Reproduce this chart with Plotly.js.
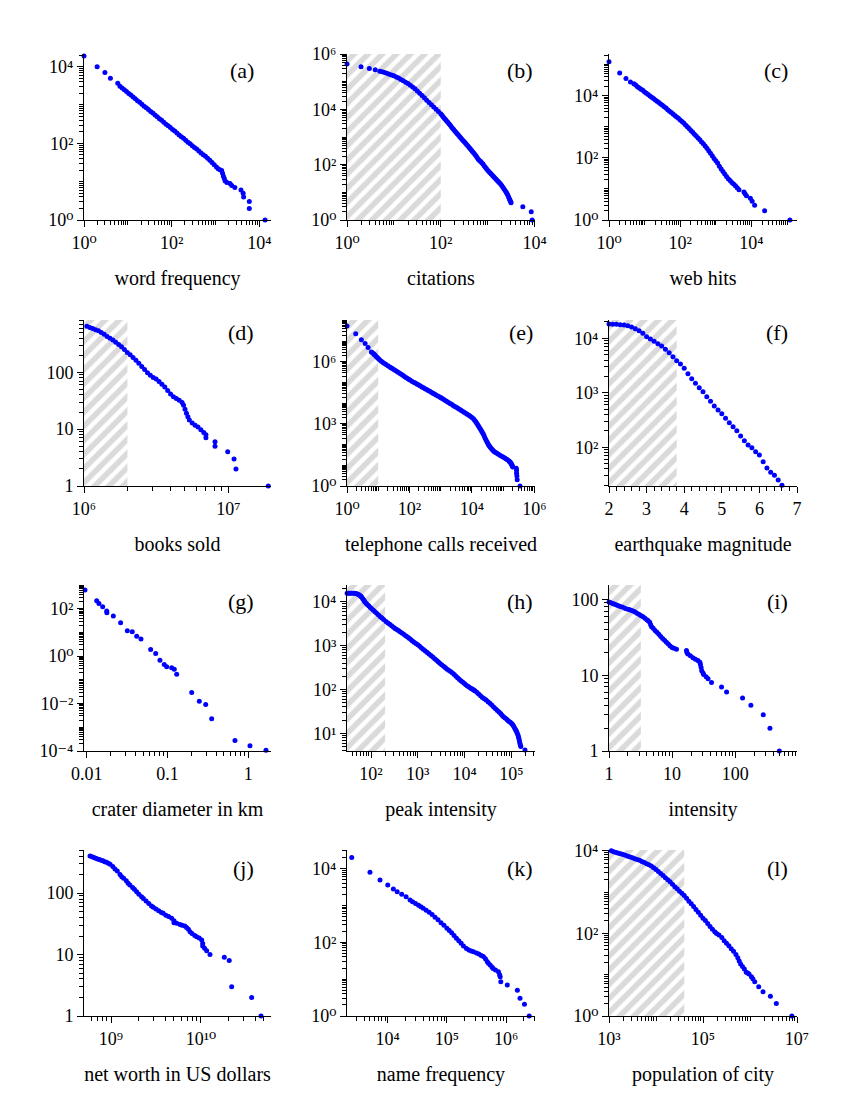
<!DOCTYPE html>
<html><head><meta charset="utf-8">
<script src="https://cdn.plot.ly/plotly-3.0.1.min.js"></script>
<style>body{margin:0;background:#fff}#chart{width:850px;height:1100px}</style>
</head><body><div id="chart"></div>
<script>
// ---------- DATA (log10 values: [log10 x, log10 cumulative count]) ----------
const wordFrequency = [[0,4.28],[0.30,4.00],[0.477,3.85],[0.602,3.70],[0.77,3.57],[0.82,3.49],[0.87,3.44],[0.92,3.40],[0.97,3.35],[1.02,3.30],[1.07,3.26],[1.12,3.21],[1.17,3.16],[1.22,3.11],[1.27,3.07],[1.32,3.02],[1.37,2.97],[1.42,2.93],[1.47,2.88],[1.52,2.83],[1.57,2.79],[1.62,2.74],[1.67,2.69],[1.72,2.64],[1.77,2.60],[1.82,2.55],[1.87,2.50],[1.92,2.46],[1.97,2.41],[2.02,2.36],[2.07,2.32],[2.12,2.27],[2.17,2.22],[2.22,2.17],[2.27,2.13],[2.32,2.08],[2.37,2.03],[2.42,1.99],[2.47,1.94],[2.52,1.89],[2.57,1.85],[2.62,1.80],[2.67,1.75],[2.72,1.70],[2.77,1.66],[2.82,1.61],[2.87,1.56],[2.92,1.50],[2.97,1.44],[3.02,1.38],[3.06,1.34],[3.10,1.31],[3.14,1.29],[3.16,1.22],[3.18,1.14],[3.20,1.08],[3.22,1.02],[3.26,0.98],[3.33,0.95],[3.37,0.90],[3.44,0.85],[3.58,0.78],[3.63,0.70],[3.64,0.60],[3.77,0.48],[3.77,0.30],[4.13,0]];
const citations = [[0,5.64],[0.30,5.54],[0.477,5.48],[0.602,5.43],[0.70,5.38],[0.75,5.355],[0.80,5.33],[0.85,5.30],[0.90,5.27],[0.95,5.24],[1.00,5.21],[1.05,5.17],[1.10,5.13],[1.15,5.08],[1.20,5.03],[1.25,4.98],[1.30,4.93],[1.35,4.87],[1.40,4.81],[1.45,4.74],[1.50,4.66],[1.55,4.58],[1.60,4.50],[1.65,4.42],[1.70,4.33],[1.75,4.25],[1.80,4.17],[1.85,4.08],[1.90,4.00],[1.95,3.92],[2.00,3.84],[2.025,3.785],[2.05,3.73],[2.075,3.68],[2.10,3.63],[2.125,3.58],[2.15,3.53],[2.175,3.48],[2.20,3.43],[2.225,3.375],[2.25,3.32],[2.275,3.27],[2.30,3.22],[2.325,3.17],[2.35,3.12],[2.375,3.07],[2.40,3.02],[2.425,2.97],[2.45,2.92],[2.475,2.875],[2.50,2.83],[2.525,2.78],[2.55,2.73],[2.575,2.68],[2.60,2.63],[2.625,2.58],[2.65,2.53],[2.675,2.48],[2.70,2.43],[2.725,2.375],[2.75,2.32],[2.775,2.26],[2.80,2.20],[2.825,2.155],[2.85,2.11],[2.875,2.065],[2.90,2.02],[2.925,1.965],[2.95,1.91],[2.975,1.855],[3.00,1.80],[3.025,1.755],[3.05,1.71],[3.075,1.665],[3.10,1.62],[3.125,1.575],[3.15,1.53],[3.175,1.485],[3.20,1.44],[3.225,1.395],[3.25,1.35],[3.275,1.30],[3.30,1.25],[3.325,1.185],[3.35,1.12],[3.375,1.055],[3.40,0.99],[3.415,0.945],[3.43,0.90],[3.445,0.84],[3.46,0.78],[3.47,0.74],[3.48,0.70],[3.49,0.66],[3.50,0.62],[3.75,0.477],[3.93,0.301],[3.95,0]];
const webHits = [[0,5.09],[0.30,4.73],[0.477,4.55],[0.602,4.44],[0.70,4.38],[0.75,4.34],[0.80,4.29],[0.85,4.25],[0.90,4.21],[0.95,4.17],[1.00,4.12],[1.05,4.08],[1.10,4.04],[1.15,3.99],[1.20,3.95],[1.25,3.91],[1.30,3.86],[1.35,3.82],[1.40,3.78],[1.45,3.73],[1.50,3.69],[1.55,3.64],[1.60,3.60],[1.65,3.55],[1.70,3.50],[1.75,3.46],[1.80,3.41],[1.85,3.36],[1.90,3.31],[1.95,3.27],[2.00,3.22],[2.05,3.17],[2.10,3.12],[2.15,3.06],[2.20,3.00],[2.25,2.94],[2.30,2.88],[2.35,2.82],[2.40,2.76],[2.45,2.70],[2.50,2.64],[2.55,2.58],[2.60,2.51],[2.65,2.45],[2.70,2.38],[2.75,2.31],[2.80,2.23],[2.85,2.15],[2.90,2.07],[2.95,1.98],[3.00,1.91],[3.05,1.83],[3.10,1.73],[3.15,1.64],[3.20,1.56],[3.25,1.48],[3.30,1.40],[3.35,1.33],[3.40,1.27],[3.45,1.21],[3.50,1.16],[3.55,1.10],[3.60,1.04],[3.65,0.97],[3.79,0.903],[3.82,0.845],[3.86,0.778],[3.97,0.699],[4.02,0.602],[4.09,0.477],[4.37,0.301],[5.08,0]];
const booksSold = [[6.00,2.83],[6.02,2.81],[6.04,2.79],[6.06,2.77],[6.08,2.75],[6.10,2.73],[6.12,2.70],[6.14,2.67],[6.16,2.63],[6.18,2.60],[6.20,2.57],[6.22,2.53],[6.24,2.49],[6.26,2.45],[6.28,2.40],[6.30,2.35],[6.32,2.31],[6.34,2.26],[6.36,2.21],[6.38,2.16],[6.40,2.10],[6.42,2.05],[6.44,1.99],[6.46,1.95],[6.48,1.91],[6.50,1.88],[6.52,1.84],[6.54,1.79],[6.56,1.74],[6.58,1.68],[6.60,1.62],[6.62,1.57],[6.64,1.54],[6.66,1.51],[6.68,1.47],[6.69,1.42],[6.70,1.35],[6.71,1.28],[6.72,1.22],[6.73,1.16],[6.75,1.11],[6.77,1.07],[6.79,1.04],[6.81,0.99],[6.83,0.94],[6.845,0.90],[6.845,0.85],[6.908,0.778],[6.908,0.699],[6.996,0.602],[7.04,0.477],[7.053,0.301],[7.277,0]];
const telephoneCalls = [[0,7.74],[0.28,7.37],[0.46,7.08],[0.58,6.89],[0.675,6.70],[0.78,6.48],[0.815,6.44],[0.85,6.40],[0.875,6.365],[0.90,6.33],[0.935,6.27],[0.97,6.21],[1.01,6.155],[1.05,6.10],[1.10,6.04],[1.15,5.98],[1.20,5.93],[1.25,5.88],[1.31,5.82],[1.37,5.76],[1.41,5.72],[1.45,5.68],[1.50,5.635],[1.55,5.59],[1.60,5.54],[1.65,5.49],[1.70,5.44],[1.75,5.39],[1.80,5.34],[1.85,5.29],[1.90,5.24],[1.95,5.19],[1.99,5.15],[2.03,5.11],[2.09,5.06],[2.15,5.01],[2.20,4.965],[2.25,4.92],[2.30,4.88],[2.35,4.84],[2.40,4.795],[2.45,4.75],[2.50,4.71],[2.55,4.67],[2.60,4.625],[2.65,4.58],[2.70,4.535],[2.75,4.49],[2.80,4.445],[2.85,4.40],[2.91,4.355],[2.97,4.31],[3.01,4.27],[3.05,4.23],[3.10,4.185],[3.15,4.14],[3.20,4.09],[3.25,4.04],[3.30,3.995],[3.35,3.95],[3.40,3.90],[3.45,3.85],[3.50,3.805],[3.55,3.76],[3.60,3.71],[3.65,3.66],[3.70,3.615],[3.75,3.57],[3.80,3.52],[3.85,3.47],[3.90,3.42],[3.95,3.37],[4.00,3.31],[4.05,3.25],[4.085,3.185],[4.12,3.12],[4.15,3.045],[4.18,2.97],[4.21,2.90],[4.24,2.83],[4.27,2.755],[4.30,2.68],[4.33,2.605],[4.36,2.53],[4.39,2.425],[4.42,2.32],[4.45,2.23],[4.48,2.14],[4.505,2.07],[4.53,2.00],[4.555,1.945],[4.58,1.89],[4.615,1.825],[4.65,1.76],[4.685,1.71],[4.72,1.66],[4.76,1.625],[4.80,1.59],[4.85,1.54],[4.90,1.49],[4.95,1.445],[5.00,1.40],[5.05,1.355],[5.10,1.31],[5.14,1.265],[5.18,1.22],[5.20,1.19],[5.22,1.16],[5.235,1.13],[5.25,1.10],[5.265,1.06],[5.28,1.02],[5.295,0.97],[5.31,0.92],[5.42,0.86],[5.43,0.75],[5.43,0.62],[5.44,0.48],[5.45,0.30],[5.54,0]];
const earthquakeMagnitude = [2.0,2.1,2.2,2.3,2.4,2.5,2.6,2.7,2.8,2.9,3.0,3.1,3.2,3.3,3.4,3.5,3.6,3.7,3.8,3.9,4.0,4.1,4.2,4.3,4.4,4.5,4.6,4.7,4.8,4.9,5.0,5.1,5.2,5.3,5.4,5.5,5.6,5.7,5.8,5.9,6.0,6.1,6.2,6.3,6.4,6.5,6.6];
const earthquakeLogCount = [4.262,4.256,4.256,4.250,4.244,4.232,4.207,4.177,4.140,4.091,4.030,3.987,3.944,3.901,3.859,3.798,3.736,3.663,3.590,3.528,3.449,3.351,3.259,3.174,3.094,3.021,2.929,2.843,2.758,2.684,2.617,2.532,2.452,2.379,2.305,2.207,2.122,2.042,1.993,1.920,1.859,1.736,1.620,1.541,1.486,1.400,1.302];
const craterDiameter = [[-2.021,2.785],[-1.876,2.335],[-1.848,2.22],[-1.802,2.08],[-1.752,1.90],[-1.75,1.83],[-1.67,1.69],[-1.58,1.41],[-1.497,1.07],[-1.436,1.03],[-1.381,0.84],[-1.328,0.72],[-1.208,0.28],[-1.146,0.11],[-1.093,-0.17],[-1.04,-0.35],[-1.01,-0.45],[-0.948,-0.49],[-0.916,-0.55],[-0.886,-0.76],[-0.70,-1.53],[-0.606,-1.90],[-0.527,-2.04],[-0.453,-2.64],[-0.165,-3.56],[0.021,-3.78],[0.219,-3.97]];
const peakIntensity = [[1.49,4.20],[1.52,4.20],[1.55,4.20],[1.585,4.20],[1.62,4.20],[1.65,4.195],[1.68,4.19],[1.705,4.18],[1.73,4.17],[1.75,4.155],[1.77,4.14],[1.785,4.125],[1.80,4.11],[1.82,4.08],[1.84,4.05],[1.855,4.025],[1.87,4.00],[1.895,3.97],[1.92,3.94],[1.95,3.91],[1.98,3.88],[2.015,3.845],[2.05,3.81],[2.085,3.775],[2.12,3.74],[2.16,3.70],[2.20,3.66],[2.235,3.63],[2.27,3.60],[2.32,3.55],[2.36,3.52],[2.40,3.49],[2.44,3.455],[2.48,3.42],[2.515,3.395],[2.55,3.37],[2.585,3.345],[2.62,3.32],[2.66,3.29],[2.70,3.26],[2.74,3.23],[2.78,3.20],[2.815,3.17],[2.85,3.14],[2.885,3.11],[2.92,3.08],[2.96,3.05],[3.00,3.02],[3.04,2.985],[3.08,2.95],[3.12,2.915],[3.16,2.88],[3.20,2.845],[3.24,2.81],[3.28,2.775],[3.32,2.74],[3.36,2.705],[3.40,2.67],[3.435,2.635],[3.47,2.60],[3.51,2.565],[3.55,2.53],[3.585,2.50],[3.62,2.47],[3.66,2.44],[3.70,2.41],[3.74,2.375],[3.78,2.34],[3.815,2.305],[3.85,2.27],[3.885,2.235],[3.92,2.20],[3.955,2.17],[3.99,2.14],[4.025,2.11],[4.06,2.08],[4.095,2.055],[4.13,2.03],[4.155,2.015],[4.18,2.00],[4.20,1.985],[4.22,1.97],[4.26,1.935],[4.30,1.90],[4.34,1.86],[4.38,1.82],[4.42,1.79],[4.46,1.76],[4.50,1.72],[4.54,1.685],[4.58,1.645],[4.62,1.60],[4.66,1.56],[4.70,1.52],[4.735,1.485],[4.77,1.45],[4.80,1.415],[4.83,1.38],[4.865,1.35],[4.90,1.32],[4.925,1.295],[4.95,1.27],[4.975,1.25],[5.00,1.23],[5.02,1.205],[5.04,1.18],[5.06,1.14],[5.08,1.10],[5.095,1.07],[5.11,1.04],[5.125,1.00],[5.14,0.96],[5.15,0.92],[5.16,0.88],[5.17,0.83],[5.18,0.78],[5.19,0.74],[5.20,0.70],[5.29,0.62]];
const warIntensity = [[0.00,1.965],[0.03,1.955],[0.06,1.945],[0.09,1.935],[0.12,1.925],[0.15,1.915],[0.18,1.905],[0.22,1.895],[0.26,1.88],[0.30,1.87],[0.33,1.862],[0.36,1.855],[0.39,1.845],[0.42,1.83],[0.45,1.815],[0.48,1.80],[0.51,1.785],[0.54,1.77],[0.57,1.75],[0.60,1.73],[0.62,1.72],[0.645,1.70],[0.66,1.665],[0.675,1.64],[0.70,1.62],[0.73,1.59],[0.76,1.565],[0.79,1.54],[0.82,1.51],[0.85,1.485],[0.88,1.46],[0.91,1.435],[0.94,1.41],[0.97,1.385],[1.00,1.365],[1.03,1.355],[1.07,1.343],[1.228,1.325],[1.235,1.30],[1.25,1.28],[1.29,1.255],[1.33,1.23],[1.37,1.21],[1.41,1.195],[1.44,1.17],[1.45,1.14],[1.46,1.10],[1.47,1.06],[1.49,1.03],[1.50,1.008],[1.54,0.98],[1.57,0.954],[1.625,0.903],[1.784,0.845],[1.864,0.778],[2.117,0.699],[2.249,0.602],[2.445,0.477],[2.551,0.301],[2.70,0]];
const netWorth = [[8.767,2.602],[8.79,2.59],[8.81,2.58],[8.83,2.565],[8.85,2.555],[8.87,2.545],[8.89,2.535],[8.91,2.525],[8.93,2.51],[8.95,2.50],[8.97,2.485],[8.99,2.47],[9.02,2.43],[9.044,2.39],[9.07,2.36],[9.10,2.30],[9.119,2.265],[9.14,2.24],[9.17,2.20],[9.19,2.16],[9.21,2.13],[9.24,2.09],[9.26,2.06],[9.285,2.02],[9.31,1.98],[9.34,1.94],[9.36,1.91],[9.39,1.87],[9.42,1.83],[9.45,1.79],[9.47,1.767],[9.50,1.74],[9.53,1.71],[9.56,1.685],[9.58,1.67],[9.61,1.64],[9.64,1.62],[9.674,1.59],[9.70,1.55],[9.70,1.517],[9.73,1.51],[9.767,1.49],[9.79,1.475],[9.82,1.463],[9.84,1.44],[9.86,1.41],[9.878,1.37],[9.90,1.34],[9.93,1.31],[9.952,1.29],[9.98,1.27],[10.008,1.236],[10.019,1.18],[10.019,1.14],[10.04,1.10],[10.063,1.062],[10.1,1.0],[10.259,0.954],[10.314,0.903],[10.341,0.477],[10.563,0.301],[10.667,0]];
const nameFrequency = [[3.392,4.30],[3.70,3.894],[3.87,3.686],[4.0,3.55],[4.095,3.44],[4.16,3.37],[4.236,3.30],[4.31,3.23],[4.377,3.143],[4.42,3.10],[4.47,3.05],[4.52,3.00],[4.56,2.96],[4.60,2.92],[4.65,2.87],[4.70,2.81],[4.75,2.75],[4.80,2.68],[4.85,2.61],[4.90,2.53],[4.95,2.46],[5.00,2.38],[5.04,2.32],[5.08,2.26],[5.12,2.18],[5.16,2.11],[5.20,2.04],[5.24,1.97],[5.28,1.90],[5.33,1.83],[5.37,1.79],[5.41,1.76],[5.45,1.74],[5.50,1.71],[5.54,1.68],[5.58,1.64],[5.615,1.61],[5.65,1.55],[5.68,1.48],[5.70,1.43],[5.73,1.38],[5.76,1.33],[5.78,1.29],[5.82,1.25],[5.87,1.20],[5.89,1.12],[5.90,1.065],[5.91,0.93],[6.02,0.84],[6.19,0.70],[6.235,0.48],[6.31,0.317],[6.39,0]];
const cityPopulation = [[3.00,4.02],[3.05,4.00],[3.10,3.98],[3.15,3.96],[3.20,3.94],[3.25,3.93],[3.30,3.91],[3.35,3.89],[3.40,3.87],[3.45,3.85],[3.50,3.83],[3.55,3.81],[3.60,3.79],[3.65,3.77],[3.70,3.74],[3.75,3.72],[3.80,3.69],[3.85,3.66],[3.90,3.63],[3.95,3.59],[4.00,3.55],[4.05,3.50],[4.10,3.45],[4.15,3.40],[4.20,3.35],[4.25,3.30],[4.30,3.25],[4.35,3.19],[4.40,3.13],[4.45,3.08],[4.50,3.02],[4.55,2.97],[4.60,2.92],[4.65,2.85],[4.70,2.78],[4.75,2.72],[4.80,2.65],[4.85,2.58],[4.90,2.51],[4.95,2.44],[5.00,2.37],[5.05,2.31],[5.10,2.24],[5.15,2.17],[5.20,2.10],[5.25,2.04],[5.29,2.00],[5.34,1.96],[5.40,1.90],[5.45,1.82],[5.50,1.76],[5.55,1.70],[5.60,1.63],[5.65,1.57],[5.70,1.49],[5.74,1.41],[5.77,1.33],[5.80,1.26],[5.84,1.20],[5.88,1.14],[5.92,1.06],[5.95,1.04],[5.98,1.02],[6.03,0.95],[6.06,0.90],[6.10,0.83],[6.185,0.71],[6.277,0.59],[6.434,0.48],[6.56,0.30],[6.89,0]];

// shaded (hatched) x-intervals, in data units
const hatchCitations = [1, 100];
const hatchBooks = [1e6, 2e6];
const hatchTelephone = [1, 10];
const hatchEarthquake = [2, 3.8];
const hatchFlares = [31, 200];
const hatchWars = [1, 3.2];
const hatchCities = [1e3, 4e4];

const axisTitles = ['word frequency','citations','web hits','books sold','telephone calls received','earthquake magnitude','crater diameter in km','peak intensity','intensity','net worth in US dollars','name frequency','population of city'];
const panelLabels = ['(a)','(b)','(c)','(d)','(e)','(f)','(g)','(h)','(i)','(j)','(k)','(l)'];

// ---------- LAYOUT ----------
const FONT = 'Liberation Serif, Times New Roman, Times, Nimbus Roman, DejaVu Serif, serif';
const W = 850, H = 1100;
const cols = [[84,271],[347,535],[609,797]];
const rows = [[54,220],[320,486],[585,751],[850,1016]];
const labelRight = [256, 535, 790];
const labelTop = [56, 318, 587, 854];
const SUP = {'0':'\u2070','1':'\u00B9','2':'\u00B2','3':'\u00B3','4':'\u2074','5':'\u2075','6':'\u2076','7':'\u2077','8':'\u2078','9':'\u2079','-':'\u207B'};
const S = e => '10' + String(e).split('').map(ch => SUP[ch]).join('');
const pw = p => p.map(v => Math.pow(10, v));

// labelled decades: [exponent, label]; unlabelled decades get a plain (minor-style) tick
const panels = [
 {data: wordFrequency, xr:[0,4.265], yr:[0,4.33], xl:[[0,S(0)],[2,S(2)],[4,S(4)]], yl:[[0,S(0)],[2,S(2)],[4,S(4)]]},
 {data: citations, xr:[0,4.01], yr:[0,6.0], xl:[[0,S(0)],[2,S(2)],[4,S(4)]], yl:[[0,S(0)],[2,S(2)],[4,S(4)],[6,S(6)]], hatch: hatchCitations},
 {data: webHits, xr:[0,5.28], yr:[0,5.34], xl:[[0,S(0)],[2,S(2)],[4,S(4)]], yl:[[0,S(0)],[2,S(2)],[4,S(4)]]},
 {data: booksSold, xr:[6,7.296], yr:[0,2.92], xl:[[6,S(6)],[7,S(7)]], yl:[[0,'1'],[1,'10'],[2,'100']], hatch: hatchBooks},
 {data: telephoneCalls, xr:[0,6.02], yr:[0,8.03], xl:[[0,S(0)],[2,S(2)],[4,S(4)],[6,S(6)]], yl:[[0,S(0)],[3,S(3)],[6,S(6)]], hatch: hatchTelephone},
 {linx: true, xr:[2,7], yr:[1.29,4.336], xv:[2,3,4,5,6,7], xs:['2','3','4','5','6','7'], yl:[[2,S(2)],[3,S(3)],[4,S(4)]], hatch: hatchEarthquake},
 {data: craterDiameter, xr:[-2.033,0.281], yr:[-4,3], xl:[[-2,'0.01'],[-1,'0.1'],[0,'1']], yl:[[-4,S(-4)],[-2,S(-2)],[0,S(0)],[2,S(2)]]},
 {data: peakIntensity, xr:[1.487,5.504], yr:[0.596,4.386], xl:[[2,S(2)],[3,S(3)],[4,S(4)],[5,S(5)]], yl:[[1,S(1)],[2,S(2)],[3,S(3)],[4,S(4)]], hatch: hatchFlares},
 {data: warIntensity, xr:[0,2.98], yr:[0,2.19], xl:[[0,'1'],[1,'10'],[2,'100']], yl:[[0,'1'],[1,'10'],[2,'100']], hatch: hatchWars},
 {data: netWorth, xr:[8.7,10.778], yr:[0,2.70], xl:[[9,S(9)],[10,S(10)]], yl:[[0,'1'],[1,'10'],[2,'100']]},
 {data: nameFrequency, xr:[3.312,6.488], yr:[0,4.5], xl:[[4,S(4)],[5,S(5)],[6,S(6)]], yl:[[0,S(0)],[2,S(2)],[4,S(4)]]},
 {data: cityPopulation, xr:[3,7.0], yr:[0,4.02], xl:[[3,S(3)],[5,S(5)],[7,S(7)]], yl:[[0,S(0)],[2,S(2)],[4,S(4)]], hatch: hatchCities}
];

function minorLog(r, labelled) {
  const v = [];
  for (let d = Math.floor(r[0]); d <= Math.ceil(r[1]); d++)
    for (let k = 1; k <= 9; k++) {
      const lv = d + Math.log10(k);
      if (k === 1 && labelled.includes(d)) continue;
      if (lv >= r[0] - 1e-9 && lv <= r[1] + 1e-9) v.push(k * Math.pow(10, d));
    }
  return v;
}
function baseAxis() {
  return {showline:true, linecolor:'#000', linewidth:1, mirror:false, ticks:'outside', ticklen:6, tickwidth:1,
    tickcolor:'#000', showgrid:false, zeroline:false, fixedrange:true, tickmode:'array',
    tickfont:{family:FONT, size:18, color:'#000'}};
}
function setLogTicks(ax, r, lab) {
  const ex = lab.map(q => q[0]);
  ax.type = 'log'; ax.range = r;
  ax.tickvals = ex.map(e => Math.pow(10, e)); ax.ticktext = lab.map(q => q[1]);
  ax.minor = {tickmode:'array', tickvals:minorLog(r, ex), ticks:'outside', ticklen:4, tickcolor:'#000', showgrid:false};
}

const traces = [];
const layout = {width:W, height:H, margin:{l:0,r:0,t:0,b:0}, paper_bgcolor:'#fff', plot_bgcolor:'rgba(0,0,0,0)',
  showlegend:false, font:{family:FONT, color:'#000'}, annotations:[]};

panels.forEach((p, i) => {
  const n = i + 1, c = i % 3, r = Math.floor(i / 3);
  const xa = 'x' + (n === 1 ? '' : n), ya = 'y' + (n === 1 ? '' : n);
  const xk = 'xaxis' + (n === 1 ? '' : n), yk = 'yaxis' + (n === 1 ? '' : n);

  const xax = baseAxis();
  xax.domain = [cols[c][0] / W, cols[c][1] / W];
  xax.anchor = ya;
  if (p.linx) {
    xax.type = 'linear'; xax.range = p.xr; xax.tickvals = p.xv; xax.ticktext = p.xs;
    xax.minor = {dtick:0.2, tick0:2, ticks:'outside', ticklen:4, tickcolor:'#000', showgrid:false};
  } else {
    setLogTicks(xax, p.xr, p.xl);
  }
  xax.title = {text: axisTitles[i], font:{family:FONT, size:20, color:'#000'}, standoff: 19};

  const yax = baseAxis();
  yax.domain = [1 - rows[r][1] / H, 1 - rows[r][0] / H];
  yax.anchor = xa;
  setLogTicks(yax, p.yr, p.yl);
  layout[xk] = xax; layout[yk] = yax;

  if (p.hatch) {
    const y0 = Math.pow(10, p.yr[0]), y1 = Math.pow(10, p.yr[1]);
    const h0 = p.hatch[0], h1 = p.hatch[1];
    traces.push({type:'scatter', mode:'none', x:[h0,h1,h1,h0,h0], y:[y0,y0,y1,y1,y0], fill:'toself',
      fillcolor:'#dadada', fillpattern:{shape:'/', bgcolor:'#dadada', fgcolor:'#ffffff', size:10, solidity:0.45},
      hoverinfo:'skip', showlegend:false, xaxis:xa, yaxis:ya});
  }
  let xs, ys;
  if (p.linx) { xs = earthquakeMagnitude; ys = pw(earthquakeLogCount); }
  else { xs = pw(p.data.map(d => d[0])); ys = pw(p.data.map(d => d[1])); }
  traces.push({type:'scatter', mode:'markers', x:xs, y:ys, marker:{color:'#0000ff', size:5}, cliponaxis:false,
    hoverinfo:'skip', showlegend:false, xaxis:xa, yaxis:ya});

  layout.annotations.push({text: panelLabels[i], xref:'paper', yref:'paper', x: labelRight[c] / W, y: 1 - labelTop[r] / H,
    xanchor:'right', yanchor:'top', showarrow:false, font:{family:FONT, size:22, color:'#000'}});
});

Plotly.newPlot('chart', traces, layout, {staticPlot:true, displayModeBar:false});
</script></body></html>
